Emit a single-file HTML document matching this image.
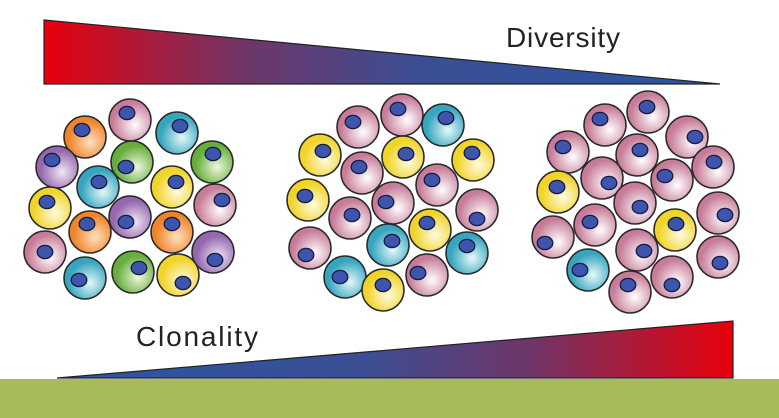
<!DOCTYPE html>
<html><head><meta charset="utf-8"><style>
html,body{margin:0;padding:0;background:#fff;width:779px;height:418px;overflow:hidden}
svg{display:block}
</style></head><body>
<svg width="779" height="418" viewBox="0 0 779 418" xmlns="http://www.w3.org/2000/svg">
<defs>
<linearGradient id="gt" x1="44" y1="0" x2="720" y2="0" gradientUnits="userSpaceOnUse">
<stop offset="0" stop-color="#e8000c"/><stop offset="0.3" stop-color="#6e3668"/><stop offset="0.55" stop-color="#3b4e94"/><stop offset="1" stop-color="#2a56a4"/></linearGradient>
<linearGradient id="gb" x1="57" y1="0" x2="733" y2="0" gradientUnits="userSpaceOnUse">
<stop offset="0" stop-color="#2a56a4"/><stop offset="0.45" stop-color="#3b4e94"/><stop offset="0.7" stop-color="#6e3668"/><stop offset="1" stop-color="#e8000c"/></linearGradient>
<radialGradient id="P" cx="0.62" cy="0.62" r="0.6"><stop offset="0" stop-color="#fff"/><stop offset="0.9" stop-color="#c77b98"/></radialGradient>
<radialGradient id="O" cx="0.62" cy="0.62" r="0.6"><stop offset="0" stop-color="#fde0c0"/><stop offset="0.85" stop-color="#f0842a"/></radialGradient>
<radialGradient id="C" cx="0.62" cy="0.62" r="0.6"><stop offset="0" stop-color="#e6f8fa"/><stop offset="0.85" stop-color="#36a6bf"/></radialGradient>
<radialGradient id="U" cx="0.62" cy="0.62" r="0.6"><stop offset="0" stop-color="#f2e6f6"/><stop offset="0.85" stop-color="#9467ae"/></radialGradient>
<radialGradient id="G" cx="0.62" cy="0.62" r="0.6"><stop offset="0" stop-color="#eef8e0"/><stop offset="0.85" stop-color="#67ad3c"/></radialGradient>
<radialGradient id="Y" cx="0.62" cy="0.62" r="0.6"><stop offset="0" stop-color="#fffbe0"/><stop offset="0.85" stop-color="#f0d42a"/></radialGradient>
<g id="n"><ellipse rx="7.8" ry="6.6" fill="#3d55ad" stroke="#151a40" stroke-width="1.3"/></g>
</defs>
<polygon points="44,20 720,84 44,84" fill="url(#gt)" stroke="#222" stroke-width="1.2"/>
<polygon points="57,378 733,321 733,378" fill="url(#gb)" stroke="#222" stroke-width="1.2"/>
<text x="506" y="47" font-family="Liberation Sans, sans-serif" font-size="28" textLength="114" fill="#222">Diversity</text>
<text x="136" y="346" font-family="Liberation Sans, sans-serif" font-size="28" textLength="122" fill="#222">Clonality</text>
<rect x="0" y="379" width="779" height="39" fill="#a8bb5a"/>
<g stroke="#2a2a2a" stroke-width="1.6">
<circle cx="130" cy="120" r="21" fill="url(#P)"/><circle cx="85" cy="137" r="21" fill="url(#O)"/><circle cx="177" cy="133" r="21" fill="url(#C)"/>
<circle cx="57" cy="167" r="21" fill="url(#U)"/><circle cx="132" cy="162" r="21" fill="url(#G)"/><circle cx="212" cy="162" r="21" fill="url(#G)"/>
<circle cx="98" cy="187" r="21" fill="url(#C)"/><circle cx="172" cy="187" r="21" fill="url(#Y)"/><circle cx="50" cy="208" r="21" fill="url(#Y)"/>
<circle cx="215" cy="205" r="21" fill="url(#P)"/><circle cx="90" cy="232" r="21" fill="url(#O)"/><circle cx="130" cy="217" r="21" fill="url(#U)"/>
<circle cx="172" cy="232" r="21" fill="url(#O)"/><circle cx="45" cy="252" r="21" fill="url(#P)"/><circle cx="213" cy="252" r="21" fill="url(#U)"/>
<circle cx="85" cy="278" r="21" fill="url(#C)"/><circle cx="133" cy="272" r="21" fill="url(#G)"/><circle cx="178" cy="275" r="21" fill="url(#Y)"/>
<circle cx="358" cy="127" r="21" fill="url(#P)"/><circle cx="402" cy="115" r="21" fill="url(#P)"/><circle cx="443" cy="125" r="21" fill="url(#C)"/>
<circle cx="320" cy="155" r="21" fill="url(#Y)"/><circle cx="362" cy="173" r="21" fill="url(#P)"/><circle cx="403" cy="157" r="21" fill="url(#Y)"/>
<circle cx="473" cy="160" r="21" fill="url(#Y)"/><circle cx="308" cy="200" r="21" fill="url(#Y)"/><circle cx="393" cy="203" r="21" fill="url(#P)"/>
<circle cx="437" cy="185" r="21" fill="url(#P)"/><circle cx="477" cy="210" r="21" fill="url(#P)"/><circle cx="350" cy="218" r="21" fill="url(#P)"/>
<circle cx="430" cy="230" r="21" fill="url(#Y)"/><circle cx="310" cy="248" r="21" fill="url(#P)"/><circle cx="388" cy="245" r="21" fill="url(#C)"/>
<circle cx="467" cy="253" r="21" fill="url(#C)"/><circle cx="345" cy="277" r="21" fill="url(#C)"/><circle cx="383" cy="290" r="21" fill="url(#Y)"/>
<circle cx="427" cy="275" r="21" fill="url(#P)"/>
<circle cx="648" cy="112" r="21" fill="url(#P)"/><circle cx="605" cy="125" r="21" fill="url(#P)"/><circle cx="687" cy="137" r="21" fill="url(#P)"/>
<circle cx="568" cy="152" r="21" fill="url(#P)"/><circle cx="637" cy="155" r="21" fill="url(#P)"/><circle cx="713" cy="167" r="21" fill="url(#P)"/>
<circle cx="558" cy="192" r="21" fill="url(#Y)"/><circle cx="602" cy="178" r="21" fill="url(#P)"/><circle cx="672" cy="180" r="21" fill="url(#P)"/>
<circle cx="635" cy="203" r="21" fill="url(#P)"/><circle cx="718" cy="213" r="21" fill="url(#P)"/><circle cx="553" cy="237" r="21" fill="url(#P)"/>
<circle cx="595" cy="225" r="21" fill="url(#P)"/><circle cx="675" cy="230" r="21" fill="url(#Y)"/><circle cx="637" cy="250" r="21" fill="url(#P)"/>
<circle cx="718" cy="257" r="21" fill="url(#P)"/><circle cx="588" cy="270" r="21" fill="url(#C)"/><circle cx="630" cy="292" r="21" fill="url(#P)"/>
<circle cx="672" cy="277" r="21" fill="url(#P)"/>
</g>
<g>
<use href="#n" x="127" y="113"/><use href="#n" x="82" y="130"/><use href="#n" x="180" y="126"/>
<use href="#n" x="52" y="160"/><use href="#n" x="126" y="167"/><use href="#n" x="213" y="154"/>
<use href="#n" x="99" y="182"/><use href="#n" x="176" y="182"/><use href="#n" x="47" y="202"/>
<use href="#n" x="222" y="200"/><use href="#n" x="87" y="224"/><use href="#n" x="126" y="222"/>
<use href="#n" x="172" y="224"/><use href="#n" x="45" y="252"/><use href="#n" x="215" y="260"/>
<use href="#n" x="79" y="280"/><use href="#n" x="139" y="268"/><use href="#n" x="183" y="283"/>
<use href="#n" x="353" y="122"/><use href="#n" x="398" y="109"/><use href="#n" x="446" y="118"/>
<use href="#n" x="323" y="151"/><use href="#n" x="359" y="167"/><use href="#n" x="406" y="154"/>
<use href="#n" x="472" y="153"/><use href="#n" x="305" y="196"/><use href="#n" x="386" y="202"/>
<use href="#n" x="432" y="180"/><use href="#n" x="477" y="219"/><use href="#n" x="352" y="215"/>
<use href="#n" x="427" y="223"/><use href="#n" x="306" y="255"/><use href="#n" x="392" y="241"/>
<use href="#n" x="467" y="246"/><use href="#n" x="340" y="277"/><use href="#n" x="383" y="285"/>
<use href="#n" x="418" y="273"/>
<use href="#n" x="647" y="107"/><use href="#n" x="600" y="119"/><use href="#n" x="695" y="137"/>
<use href="#n" x="563" y="147"/><use href="#n" x="640" y="150"/><use href="#n" x="714" y="162"/>
<use href="#n" x="557" y="187"/><use href="#n" x="609" y="183"/><use href="#n" x="665" y="176"/>
<use href="#n" x="640" y="207"/><use href="#n" x="725" y="215"/><use href="#n" x="545" y="243"/>
<use href="#n" x="590" y="222"/><use href="#n" x="676" y="224"/><use href="#n" x="644" y="251"/>
<use href="#n" x="720" y="263"/><use href="#n" x="580" y="270"/><use href="#n" x="628" y="285"/>
<use href="#n" x="672" y="285"/>
</g>
</svg>
</body></html>
